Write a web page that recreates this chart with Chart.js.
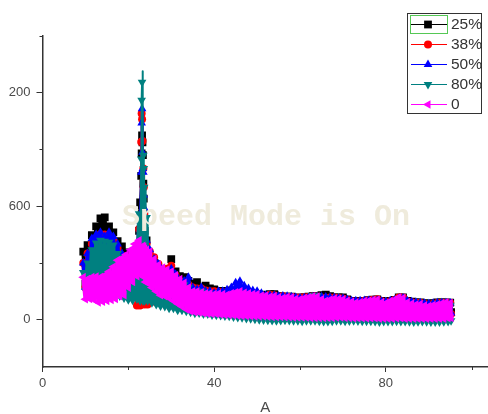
<!DOCTYPE html>
<html>
<head>
<meta charset="utf-8">
<title>Chart</title>
<script src="https://cdn.jsdelivr.net/npm/chart.js@4"></script>
<style>
  html, body { margin: 0; padding: 0; background: #fff; }
  canvas { display: block; }
</style>
</head>
<body>
<canvas id="chart" width="488" height="414"></canvas>
<script>
const angle = [
  9.5,10,10.5,11,11.5,12,12.5,13,13.5,14,14.5,15,15.5,16,16.5,17,17.5,18,18.5,19,19.5,20,20.5,21,21.5,22,22.5,
  22.75,23,23.1,23.2,23.3,23.4,23.5,23.6,23.7,23.8,
  24,24.25,24.5,25,25.5,26,26.5,27,27.5,28,28.5,29,29.5,30,30.5,31,31.5,32,32.5,33,33.5,34,34.5,35,35.5,36,36.5,37,37.5,38,38.5,39,39.5,40,
  40.5,41,41.5,42,42.5,43,43.5,44,44.5,45,45.5,46,46.5,47,47.5,48,48.5,49,49.5,50,50.5,51,51.5,52,52.5,53,53.5,54,54.5,55,55.5,56,56.5,57,57.5,58,58.5,59,59.5,60,
  60.5,61,61.5,62,62.5,63,63.5,64,64.5,65,65.5,66,66.5,67,67.5,68,68.5,69,69.5,70,70.5,71,71.5,72,72.5,73,73.5,74,74.5,75,75.5,76,76.5,77,77.5,78,78.5,79,79.5,80,
  80.5,81,81.5,82,82.5,83,83.5,84,84.5,85,85.5,86,86.5,87,87.5,88,88.5,89,89.5,90,90.5,91,91.5,92,92.5,93,93.5,94,94.5,95,95.2
];

// tail of each series (x 40.5 to 95.2) alternates low, high
const black25 = [
  360,190,394,200,447,210,494,200,536,210,541,190,494,190,462,180,415,170,388,170,356,160,340,170,360,150,470,
  620,760,880,975,938,870,720,640,560,470,
  130,420,120,330,120,300,110,265,110,225,100,260,100,320,100,256,90,230,90,225,80,205,80,190,70,198,70,165,60,180,60,165,60,160,
  58,152,56,150,54,152,52,155,50,152,48,150,46,145,45,140,44,138,42,135,40,132,40,130,38,135,36,135,35,125,34,122,32,122,32,122,30,118,30,115,
  30,120,28,122,28,124,28,125,26,130,26,132,25,125,25,118,25,118,24,118,24,108,24,100,22,98,22,98,22,100,20,104,20,106,20,108,20,100,20,95,
  20,100,20,105,20,118,20,118,20,100,20,95,20,92,20,92,20,88,20,85,20,88,20,92,20,92,20,92,22,90,40
];
const red38 = [
  300,170,350,190,400,190,430,190,452,190,450,180,440,180,420,170,375,160,340,150,320,130,310,120,340,75,480,
  75,940,1090,1060,945,85,800,700,560,80,
  85,400,80,360,95,330,120,295,110,250,110,270,100,285,100,235,90,205,90,195,80,185,80,170,70,165,70,165,60,155,60,150,60,150,
  50,148,50,145,48,145,48,145,46,150,45,155,44,145,42,140,40,135,40,130,38,128,36,125,35,132,34,130,32,122,32,125,30,122,30,120,28,118,28,118,
  26,119,26,120,25,123,25,123,24,118,24,115,22,117,22,118,22,115,20,112,20,104,20,98,20,96,20,96,18,100,18,102,18,106,18,108,18,98,18,92,
  16,98,16,104,16,118,16,118,15,98,15,92,15,90,15,90,15,84,15,80,15,84,15,88,15,90,15,90,15,88,30
];
const blue50 = [
  300,170,350,180,430,190,450,190,462,190,440,180,462,170,440,170,400,160,350,150,320,130,320,120,350,130,520,
  560,780,1040,1115,885,800,780,660,590,450,
  110,420,105,370,105,320,110,295,100,250,100,225,95,270,90,240,85,190,80,205,80,225,75,170,70,160,65,170,60,150,55,150,55,140,
  52,150,50,150,50,158,48,170,46,195,45,204,44,180,44,165,42,155,40,150,38,140,36,130,35,128,34,128,32,126,32,125,30,124,30,122,28,118,28,115,
  26,116,26,118,25,121,25,122,24,122,24,120,22,118,22,116,22,114,20,112,20,105,20,100,20,100,20,100,18,101,18,102,18,102,18,102,18,98,18,95,
  16,100,16,104,16,112,16,115,15,100,15,95,15,92,15,90,15,87,15,85,15,87,15,90,15,90,15,90,18,88,35
];
const teal80 = [
  250,155,300,160,370,160,405,160,420,160,415,155,410,150,395,140,350,125,330,115,300,105,300,103,340,110,560,
  100,850,1160,1255,1313,100,870,800,700,100,
  110,540,100,300,90,270,80,240,72,210,70,200,60,230,60,210,50,180,50,185,45,170,40,150,34,150,35,150,30,140,30,135,25,130,
  24,125,22,125,20,122,18,130,15,135,12,140,10,128,6,125,5,122,2,120,0,112,-2,110,-3,106,-4,105,-5,102,-4,100,-3,102,-4,100,-5,96,-6,95,
  -8,98,-6,100,-5,128,-6,128,-8,100,-9,100,-10,100,-8,100,-5,96,-6,95,-8,90,-7,90,-5,84,-7,85,-8,88,-8,90,-8,90,-10,90,-12,82,-10,80,
  -10,86,-9,90,-8,90,-9,90,-10,80,-11,75,-12,72,-11,70,-10,65,-11,60,-12,66,-12,70,-12,74,-11,80,-10,76,-5
];
const magenta0 = [
  225,108,215,110,225,105,228,92,225,95,235,100,255,105,280,110,315,124,325,130,345,170,370,200,400,230,420,
  260,360,240,385,235,390,230,385,225,375,
  200,370,195,360,170,320,150,290,130,275,125,265,115,255,100,235,85,215,70,195,55,170,45,150,40,150,38,145,34,140,32,140,30,135,
  30,138,28,135,26,132,25,140,24,145,22,150,20,142,20,140,19,136,18,135,18,128,18,128,16,122,15,125,15,118,15,115,14,120,14,118,12,110,12,108,
  12,115,12,118,10,124,10,122,10,108,10,100,10,106,10,112,12,110,12,108,10,100,10,95,8,90,8,92,8,98,8,100,8,104,8,105,6,92,6,88,
  6,98,6,105,8,119,8,115,5,92,5,85,5,80,5,82,5,75,5,72,5,78,5,80,5,86,5,92,8,88,10
];

const seriesLabels = ['25%', '38%', '50%', '80%', '0'];
const seriesValues = [black25, red38, blue50, teal80, magenta0];
const seriesColors = ['#000000', '#ff0000', '#0000ff', '#008080', '#ff00ff'];
const seriesMarkers = ['rect', 'circle', 'triangle', 'triangle', 'triangle'];
const markerRotation = [0, 0, 0, 180, -90];
const markerRadius = [5.5, 4, 5, 5, 5];

const yTicks = [0, 600, 1200];
const yTickLabels = ['0', '600', '200'];
const yMinorTicks = [300, 900, 1500];
const xTicks = [0, 40, 80];
const xTickLabels = ['0', '40', '80'];
const xMinorTicks = [20, 60, 100];

const axisColor = '#333333';
const labelColor = '#4a4a4a';

const extras = {
  id: 'extras',
  afterDatasetsDraw(chart) {
    const ctx = chart.ctx;
    // faint watermark over the plot
    ctx.save();
    ctx.font = 'bold 30px "Liberation Mono"';
    ctx.fillStyle = '#efebdc';
    ctx.textAlign = 'left';
    ctx.textBaseline = 'middle';
    ctx.fillText('Speed Mode is On', 122, 217);
    ctx.restore();
  },
  afterDraw(chart) {
    const ctx = chart.ctx;
    const { x, y } = chart.scales;

    // minor ticks
    ctx.save();
    ctx.strokeStyle = axisColor;
    ctx.lineWidth = 1;
    ctx.beginPath();
    yMinorTicks.forEach(v => {
      const py = Math.round(y.getPixelForValue(v)) + 0.5;
      ctx.moveTo(x.left - 3, py);
      ctx.lineTo(x.left, py);
    });
    xMinorTicks.forEach(v => {
      const px = Math.round(x.getPixelForValue(v)) + 0.5;
      ctx.moveTo(px, y.bottom);
      ctx.lineTo(px, y.bottom + 3);
    });
    ctx.stroke();

    // legend box
    ctx.fillStyle = '#ffffff';
    ctx.fillRect(408, 13, 74, 100);
    ctx.strokeStyle = '#333333';
    ctx.lineWidth = 1;
    ctx.strokeRect(407.5, 13.5, 74, 100);
    ctx.strokeStyle = '#55c855';
    ctx.strokeRect(410.5, 15.5, 37, 18);

    ctx.font = '15.5px "Liberation Sans"';
    ctx.textAlign = 'left';
    ctx.textBaseline = 'middle';
    seriesLabels.forEach((label, i) => {
      const rowY = 24 + i * 20;
      ctx.strokeStyle = seriesColors[i];
      ctx.lineWidth = 1;
      ctx.beginPath();
      ctx.moveTo(411, rowY + 0.5);
      ctx.lineTo(447, rowY + 0.5);
      ctx.stroke();
      ctx.fillStyle = seriesColors[i];
      Chart.helpers.drawPoint(ctx, {
        pointStyle: seriesMarkers[i],
        rotation: markerRotation[i],
        radius: markerRadius[i],
        borderWidth: 0
      }, 428, rowY + 0.5);
      ctx.fillStyle = '#333333';
      ctx.fillText(label, 451, rowY + 1);
    });
    ctx.restore();
  }
};

const chart = new Chart(document.getElementById('chart'), {
  type: 'scatter',
  data: {
    datasets: seriesLabels.map((label, i) => ({
      label: label,
      // lower order is painted later, magenta has to end up on top
      order: seriesLabels.length - 1 - i,
      data: angle.map((a, j) => ({ x: a, y: seriesValues[i][j] })),
      showLine: true,
      tension: 0,
      borderColor: seriesColors[i],
      backgroundColor: seriesColors[i],
      borderWidth: 4,
      borderJoinStyle: 'round',
      segment: {
        // the sharp peak is drawn with a thin line, the noisy band with a thick one
        borderWidth: c => (Math.max(c.p0.parsed.y, c.p1.parsed.y) > 700 ? 2 : 4)
      },
      pointStyle: seriesMarkers[i],
      pointRotation: markerRotation[i],
      pointRadius: c => (c.raw && c.raw.y > 1300 ? 0 : markerRadius[i]),
      pointBorderWidth: 0
    }))
  },
  options: {
    responsive: false,
    animation: false,
    layout: { autoPadding: false, padding: { top: 36, right: 0, left: 0, bottom: 0 } },
    plugins: {
      legend: { display: false },
      tooltip: { enabled: false }
    },
    scales: {
      x: {
        type: 'linear',
        min: 0,
        max: 103.8,
        afterBuildTicks: axis => { axis.ticks = xTicks.map(v => ({ value: v })); },
        afterFit: axis => { axis.height = 47; },
        border: { color: axisColor, width: 1.5 },
        grid: { drawOnChartArea: false, tickLength: 5, tickColor: axisColor },
        ticks: {
          autoSkip: false,
          maxRotation: 0,
          padding: 4,
          color: labelColor,
          font: { family: '"Liberation Sans"', size: 13 },
          callback: v => xTickLabels[xTicks.indexOf(v)]
        },
        title: {
          display: true,
          text: 'A',
          color: labelColor,
          font: { family: '"Liberation Sans"', size: 15 },
          padding: { top: 0, bottom: -3 }
        }
      },
      y: {
        type: 'linear',
        min: -250,
        max: 1500,
        afterBuildTicks: axis => { axis.ticks = yTicks.map(v => ({ value: v })); },
        afterFit: axis => { axis.width = 42.5; },
        border: { color: axisColor, width: 1.5 },
        grid: { drawOnChartArea: false, tickLength: 6, tickColor: axisColor },
        ticks: {
          autoSkip: false,
          padding: 6,
          color: labelColor,
          font: { family: '"Liberation Sans"', size: 13 },
          callback: v => yTickLabels[yTicks.indexOf(v)]
        }
      }
    }
  },
  plugins: [extras]
});
</script>
</body>
</html>
